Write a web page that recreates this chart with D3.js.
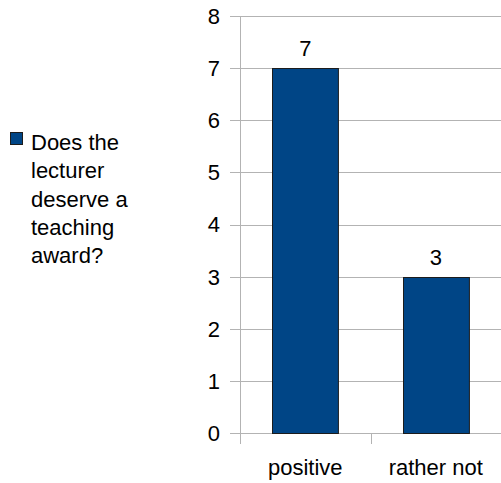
<!DOCTYPE html>
<html>
<head>
<meta charset="utf-8">
<script src="https://cdn.jsdelivr.net/npm/d3@7"></script>
<style>
  html, body { margin: 0; padding: 0; background: #fff; }
  svg { display: block; font-family: "Liberation Sans", Arial, sans-serif; }
</style>
</head>
<body>
<div id="chart"></div>
<script>
// Data
const categories = ['positive', 'rather not'];
const values = [7, 3];
const yTicks = [0, 1, 2, 3, 4, 5, 6, 7, 8];
const legendLines = ['Does the', 'lecturer', 'deserve a', 'teaching', 'award?'];

const width = 501;
const height = 483;
const margin = { top: 16, right: 0, bottom: 50, left: 240 };
const fontSize = 22;
const barColor = '#004586';
const gridColor = '#b3b3b3';

const svg = d3.select('#chart')
  .append('svg')
  .attr('width', width)
  .attr('height', height);

const x = d3.scaleBand()
  .domain(categories)
  .range([margin.left, width])
  .paddingInner(0)
  .paddingOuter(0);

const y = d3.scaleLinear()
  .domain([0, 8])
  .range([height - margin.bottom, margin.top]);

const barWidth = x.bandwidth() * 0.505;

// Grid lines (with the small tick stubs left of the axis)
svg.append('g')
  .selectAll('line')
  .data(yTicks)
  .enter()
  .append('line')
  .attr('x1', margin.left - 10)
  .attr('x2', width)
  .attr('y1', d => Math.round(y(d)) + 0.5)
  .attr('y2', d => Math.round(y(d)) + 0.5)
  .attr('stroke', gridColor)
  .attr('stroke-width', 1);

// Y axis line
svg.append('line')
  .attr('x1', margin.left + 0.5)
  .attr('x2', margin.left + 0.5)
  .attr('y1', Math.round(y(8)))
  .attr('y2', Math.round(y(0)) + 11)
  .attr('stroke', gridColor);

// X axis category boundary ticks
svg.append('g')
  .selectAll('line')
  .data(categories.slice(1))
  .enter()
  .append('line')
  .attr('x1', d => Math.round(x(d)) + 0.5)
  .attr('x2', d => Math.round(x(d)) + 0.5)
  .attr('y1', Math.round(y(0)))
  .attr('y2', Math.round(y(0)) + 11)
  .attr('stroke', gridColor);

// Y tick labels
svg.append('g')
  .selectAll('text')
  .data(yTicks)
  .enter()
  .append('text')
  .attr('x', margin.left - 20)
  .attr('y', d => y(d))
  .attr('dy', '0.36em')
  .attr('text-anchor', 'end')
  .attr('font-size', fontSize)
  .attr('fill', '#000')
  .text(d => d);

// Bars
svg.append('g')
  .selectAll('rect')
  .data(values)
  .enter()
  .append('rect')
  .attr('x', (d, i) => Math.round(x(categories[i]) + (x.bandwidth() - barWidth) / 2) + 0.5)
  .attr('y', d => Math.round(y(d)) + 0.5)
  .attr('width', barWidth)
  .attr('height', d => Math.round(y(0)) - Math.round(y(d)))
  .attr('fill', barColor)
  .attr('stroke', '#1c1c1c')
  .attr('stroke-width', 1);

// Value labels
svg.append('g')
  .selectAll('text')
  .data(values)
  .enter()
  .append('text')
  .attr('x', (d, i) => x(categories[i]) + x.bandwidth() / 2)
  .attr('y', d => y(d) - 12)
  .attr('text-anchor', 'middle')
  .attr('font-size', fontSize)
  .attr('fill', '#000')
  .text(d => d);

// Category labels
svg.append('g')
  .selectAll('text')
  .data(categories)
  .enter()
  .append('text')
  .attr('x', d => x(d) + x.bandwidth() / 2)
  .attr('y', 475)
  .attr('text-anchor', 'middle')
  .attr('font-size', fontSize)
  .attr('fill', '#000')
  .text(d => d);

// Legend
const legend = svg.append('g');

legend.append('rect')
  .attr('x', 10.5)
  .attr('y', 132.5)
  .attr('width', 12)
  .attr('height', 12)
  .attr('fill', barColor)
  .attr('stroke', '#1c1c1c');

legend.selectAll('text')
  .data(legendLines)
  .enter()
  .append('text')
  .attr('x', 31)
  .attr('y', (d, i) => 150 + i * 28.3)
  .attr('font-size', fontSize)
  .attr('fill', '#000')
  .text(d => d);
</script>
</body>
</html>
